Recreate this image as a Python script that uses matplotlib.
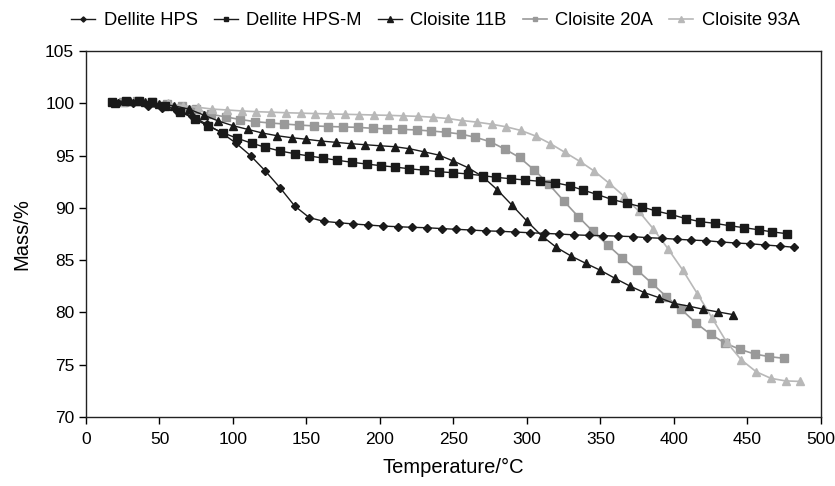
import matplotlib
matplotlib.use("Agg")
import matplotlib.pyplot as plt

plt.rcParams['font.family'] = ['Liberation Sans', 'DejaVu Sans']

# Dellite HPS (diamonds)
t_hps = [22, 32, 42, 52, 62, 72, 82, 92, 102, 112, 122, 132, 142, 152, 162, 172, 182, 192, 202, 212,
         222, 232, 242, 252, 262, 272, 282, 292, 302, 312, 322, 332, 342, 352, 362, 372, 382, 392, 402,
         412, 422, 432, 442, 452, 462, 472, 482]
m_hps = [100.05, 100.0, 99.77, 99.52, 99.25, 98.8, 98.0, 97.2, 96.2, 94.99, 93.53, 91.93, 90.18, 89.06,
         88.71, 88.58, 88.46, 88.36, 88.26, 88.20, 88.14, 88.10, 88.02, 87.95, 87.88, 87.8, 87.76, 87.69,
         87.62, 87.56, 87.5, 87.42, 87.37, 87.34, 87.3, 87.25, 87.15, 87.09, 87.0, 86.92, 86.86, 86.74,
         86.64, 86.57, 86.45, 86.35, 86.23]

# Dellite HPS-M (squares)
t_hpsm = [18, 27, 36, 45, 54, 64, 74, 83, 93, 103, 113, 122, 132, 142, 152, 161, 171, 181, 191, 201,
          210, 220, 230, 240, 250, 260, 270, 279, 289, 299, 309, 319, 329, 338, 348, 358, 368, 378, 388,
          398, 408, 418, 428, 438, 448, 458, 467, 477]
m_hpsm = [100.1, 100.25, 100.25, 100.1, 99.77, 99.2, 98.5, 97.83, 97.19, 96.65, 96.17, 95.8, 95.44, 95.18,
          94.96, 94.77, 94.55, 94.36, 94.19, 94.03, 93.91, 93.74, 93.6, 93.46, 93.36, 93.24, 93.08, 92.92,
          92.79, 92.66, 92.54, 92.41, 92.12, 91.71, 91.27, 90.8, 90.45, 90.1, 89.7, 89.37, 88.98, 88.68,
          88.52, 88.29, 88.10, 87.9, 87.7, 87.53]

# Cloisite 11B (black triangles)
t_11b = [20, 30, 40, 50, 60, 70, 80, 90, 100, 110, 120, 130, 140, 150, 160, 170, 180, 190, 200, 210,
         220, 230, 240, 250, 260, 270, 280, 290, 300, 310, 320, 330, 340, 350, 360, 370, 380, 390, 400,
         410, 420, 430, 440]
m_11b = [100.0, 100.2, 100.15, 99.95, 99.75, 99.45, 98.88, 98.31, 97.86, 97.51, 97.16, 96.9, 96.71, 96.56,
         96.39, 96.27, 96.14, 96.04, 95.94, 95.85, 95.66, 95.36, 95.05, 94.48, 93.84, 92.98, 91.71, 90.24,
         88.74, 87.34, 86.23, 85.40, 84.70, 84.03, 83.26, 82.53, 81.89, 81.41, 80.87, 80.61, 80.30, 80.05,
         79.8]

# Cloisite 20A (grey squares)
t_20a = [25, 35, 45, 55, 65, 75, 85, 95, 105, 115, 125, 135, 145, 155, 165, 175, 185, 195, 205, 215,
         225, 235, 245, 255, 265, 275, 285, 295, 305, 315, 325, 335, 345, 355, 365, 375, 385, 395, 405,
         415, 425, 435, 445, 455, 465, 475]
m_20a = [100.09, 100.22, 100.09, 99.93, 99.74, 99.42, 98.95, 98.7, 98.45, 98.25, 98.12, 98.02, 97.92, 97.84,
         97.78, 97.74, 97.7, 97.61, 97.54, 97.51, 97.45, 97.35, 97.23, 97.06, 96.75, 96.33, 95.62, 94.82,
         93.62, 92.25, 90.68, 89.15, 87.74, 86.45, 85.18, 84.06, 82.79, 81.50, 80.30, 78.99, 77.91, 77.05,
         76.47, 76.02, 75.77, 75.61]

# Cloisite 93A (light grey triangles)
t_93a = [26, 36, 46, 56, 66, 76, 86, 96, 106, 116, 126, 136, 146, 156, 166, 176, 186, 196, 206, 216,
         226, 236, 246, 256, 266, 276, 286, 296, 306, 316, 326, 336, 346, 356, 366, 376, 386, 396, 406,
         416, 426, 436, 446, 456, 466, 476, 486]
m_93a = [100.1, 100.22, 100.15, 100.0, 99.77, 99.62, 99.45, 99.36, 99.27, 99.2, 99.15, 99.1, 99.06, 99.02,
         98.98, 98.95, 98.92, 98.88, 98.85, 98.8, 98.75, 98.67, 98.55, 98.35, 98.2, 98.0, 97.75, 97.4,
         96.87, 96.14, 95.3, 94.45, 93.5, 92.35, 91.13, 89.70, 88.0, 86.09, 84.06, 81.79, 79.47, 77.14,
         75.45, 74.33, 73.7, 73.45, 73.4]

labels = ['Dellite HPS', 'Dellite HPS-M', 'Cloisite 11B', 'Cloisite 20A', 'Cloisite 93A']
x_ticks = [0, 50, 100, 150, 200, 250, 300, 350, 400, 450, 500]
y_ticks = [70, 75, 80, 85, 90, 95, 100, 105]

fig = plt.figure(figsize=(8.35, 4.86), dpi=100)
ax = fig.add_axes([0.103, 0.142, 0.880, 0.753])

dark = '#1a1a1a'
grey = '#999999'
light = '#b8b8b8'

ax.plot(t_hps, m_hps, color=dark, lw=1.0, marker='D', ms=4.4, label=labels[0], zorder=3)
ax.plot(t_hpsm, m_hpsm, color=dark, lw=1.0, marker='s', ms=5.8, label=labels[1], zorder=3)
ax.plot(t_11b, m_11b, color=dark, lw=1.0, marker='^', ms=6.3, label=labels[2], zorder=3)
ax.plot(t_20a, m_20a, color=grey, lw=1.2, marker='s', ms=5.8, label=labels[3], zorder=2)
ax.plot(t_93a, m_93a, color=light, lw=1.2, marker='^', ms=6.3, label=labels[4], zorder=2)

ax.set_xlim(0, 500)
ax.set_ylim(70, 105)
ax.set_xticks(x_ticks)
ax.set_yticks(y_ticks)
ax.tick_params(direction='out', length=5, width=1, labelsize=12.5, colors='black')
ax.tick_params(axis='x', pad=6)
for s in ax.spines.values():
    s.set_linewidth(1.0)
    s.set_color('#222222')

ax.set_xlabel('Temperature/°C', fontsize=14.5, labelpad=8)
ax.set_ylabel('Mass/%', fontsize=14.5, labelpad=10)

leg = fig.legend(loc='center left', bbox_to_anchor=(0.085, 0.957), ncol=5, frameon=False,
                 fontsize=13.2, handlelength=1.33, handletextpad=0.45, columnspacing=0.87,
                 markerscale=0.6, borderpad=0, borderaxespad=0)

fig.savefig('out.png', dpi=100)
